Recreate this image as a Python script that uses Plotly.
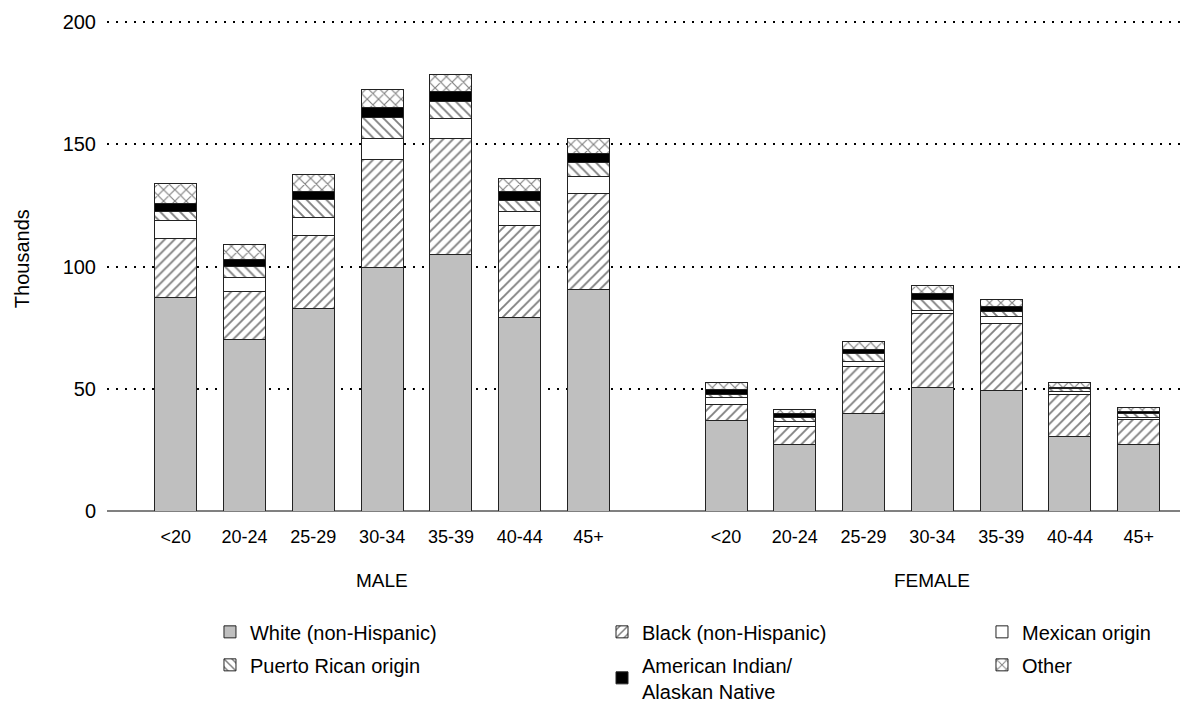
import plotly.graph_objects as go

# Age groups shown for each sex
age_groups = ["<20", "20-24", "25-29", "30-34", "35-39", "40-44", "45+"]
sexes = ["MALE", "FEMALE"]

# Values in thousands, male groups first then female groups
white_nh = [87.2, 70.1, 82.9, 99.7, 104.9, 79.3, 90.7,
            37.2, 27.1, 40.0, 50.5, 49.2, 30.6, 27.1]
black_nh = [24.2, 19.8, 29.9, 44.1, 47.6, 37.6, 39.0,
            6.3, 7.6, 18.9, 30.2, 27.4, 17.2, 10.2]
mexican = [7.4, 5.5, 7.1, 8.4, 8.2, 5.7, 7.3,
           2.8, 1.8, 2.4, 1.3, 3.0, 1.0, 0.8]
puerto_rican = [3.8, 4.6, 7.6, 8.7, 6.8, 4.3, 5.4,
                1.5, 1.7, 3.1, 4.7, 2.2, 1.4, 1.8]
american_indian = [3.2, 3.0, 3.2, 4.1, 4.1, 3.8, 3.8,
                   1.7, 1.7, 1.8, 2.2, 1.9, 0.5, 0.8]
other = [8.2, 6.0, 7.1, 7.4, 7.0, 5.2, 6.0,
         3.1, 1.6, 3.1, 3.2, 3.0, 1.7, 1.5]

series_names = ["White (non-Hispanic)", "Black (non-Hispanic)", "Mexican origin",
                "Puerto Rican origin", "American Indian/<br>Alaskan Native", "Other"]

# Slot positions: one empty slot separates the two sexes
n = len(age_groups)
x_pos = [i for i in range(n)] + [i + n + 1 for i in range(n)]
tick_text = age_groups + age_groups
group_centers = [(n - 1) / 2, n + 1 + (n - 1) / 2]

FONT = "Liberation Sans, Arial, sans-serif"
OUTLINE = dict(color="#222222", width=1)


def hatch(shape, size):
    return dict(shape=shape, fgcolor="black", bgcolor="white", size=size, solidity=0.27)


styles = [
    dict(color="#bfbfbf", line=OUTLINE),
    dict(color="white", line=OUTLINE, pattern=hatch("/", 7)),
    dict(color="white", line=OUTLINE),
    dict(color="white", line=OUTLINE, pattern=hatch("\\", 7)),
    dict(color="black", line=OUTLINE),
    dict(color="white", line=OUTLINE, pattern=hatch("x", 8)),
]
values = [white_nh, black_nh, mexican, puerto_rican, american_indian, other]
# Legend columns: (White, Puerto Rican), (Black, American Indian), (Mexican, Other)
legend_ids = ["legend", "legend2", "legend3", "legend", "legend2", "legend3"]

fig = go.Figure()
for name, vals, style, lg in zip(series_names, values, styles, legend_ids):
    fig.add_trace(go.Bar(x=x_pos, y=vals, name=name, marker=style, width=0.61,
                         legend=lg, legendgroup=name))

for label, cx in zip(sexes, group_centers):
    fig.add_annotation(x=cx, xref="x", y=0, yref="paper", yshift=-69,
                       text=label, showarrow=False, yanchor="middle",
                       font=dict(family=FONT, size=19, color="black"))

# Vertical axis title
fig.add_annotation(x=-0.0792, xref="paper", y=0.513, yref="paper",
                   text="Thousands", textangle=-90, showarrow=False,
                   xanchor="center", yanchor="middle",
                   font=dict(family=FONT, size=20, color="black"))

legend_style = dict(orientation="v", xref="container", yref="container",
                    xanchor="left", yanchor="top", y=0.1277,
                    traceorder="grouped", tracegroupgap=4,
                    bgcolor="rgba(0,0,0,0)",
                    font=dict(family=FONT, size=20, color="black"))

fig.update_layout(
    width=1204, height=702,
    margin=dict(l=107, r=24, t=20, b=191, autoexpand=False),
    paper_bgcolor="white", plot_bgcolor="white",
    barmode="stack",
    font=dict(family=FONT, size=18, color="black"),
    showlegend=True,
    legend=dict(x=0.1744, **legend_style),
    legend2=dict(x=0.5, **legend_style),
    legend3=dict(x=0.8156, **legend_style),
    xaxis=dict(range=[-1.0, 14.6], tickvals=x_pos, ticktext=tick_text,
               showgrid=False, zeroline=False, showline=False, ticks="",
               ticklabelstandoff=13, tickfont=dict(size=18)),
    yaxis=dict(range=[0, 200.82], tickvals=[0, 50, 100, 150, 200],
               showgrid=True, gridcolor="black",
               gridwidth=1.5, griddash="2px,7px", zeroline=True,
               zerolinecolor="#808080", zerolinewidth=1.5, ticks="",
               ticklabelstandoff=10, tickfont=dict(size=20)),
)

fig.write_html("out.html")
